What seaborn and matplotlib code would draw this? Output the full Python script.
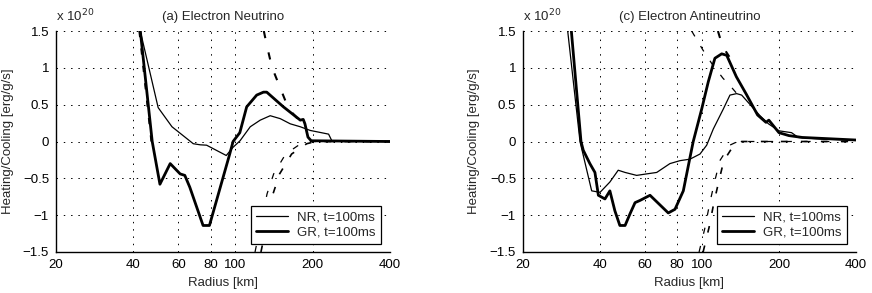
import numpy as np
import pandas as pd
import matplotlib
matplotlib.use("Agg")
import matplotlib.pyplot as plt
from matplotlib.ticker import FixedLocator, FixedFormatter, NullLocator
from matplotlib.lines import Line2D
import seaborn as sns

# ---------------- data (units of 1e20 erg/g/s) ----------------
x_ticks = [20, 40, 60, 80, 100, 200, 400]
y_ticks = [-1.5, -1, -0.5, 0, 0.5, 1, 1.5]
y_tick_labels = ["\u22121.5", "\u22121", "\u22120.5", "0", "0.5", "1", "1.5"]
titles = ["(a) Electron Neutrino", "(c) Electron Antineutrino"]
legend_labels = ["NR, t=100ms", "GR, t=100ms"]

# Panel (a) electron neutrino
a_nr_r = [42.6, 50.0, 56.6, 59.0, 68.5, 72.9, 77.2, 92.1, 97.8, 104.2, 114.2, 124.9,
          136.6, 149.5, 163.5, 178.9, 195.6, 230.6, 237.4, 400]
a_nr_v = [1.5, 0.46, 0.20, 0.15, -0.03, -0.045, -0.05, -0.19, -0.08, 0.01, 0.20, 0.29,
          0.35, 0.31, 0.24, 0.20, 0.15, 0.10, 0.01, 0.0]
a_gr_r = [42.6, 47.4, 50.8, 55.7, 60.9, 63.5, 66.4, 74.8, 79.2, 95.0, 97.9, 104.0,
          110.6, 121.0, 128.6, 132.4, 153.8, 178.9, 183.7, 186.5, 191.6, 197.2, 400]
a_gr_v = [1.5, 0.0, -0.58, -0.30, -0.44, -0.46, -0.62, -1.14, -1.14, -0.17, 0.0, 0.12,
          0.47, 0.63, 0.67, 0.67, 0.47, 0.29, 0.30, 0.24, 0.06, 0.01, 0.0]
a_heat_r = [129.0, 132.4, 138.7, 149.7, 161.3, 176.8]
a_heat_v = [1.5, 1.31, 1.01, 0.72, 0.44, 0.29]
a_heat2_r = [42.1, 46.9]
a_heat2_v = [1.5, 0.0]
a_cool1_r = [119.2, 132.8, 140.9, 156.9, 179.6, 195.0, 400]
a_cool1_v = [-1.5, -0.71, -0.44, -0.17, -0.03, 0.0, 0.0]
a_cool2_r = [125.7, 140.1, 148.6, 165.5, 189.5, 205.7, 400]
a_cool2_v = [-1.5, -0.71, -0.44, -0.17, -0.03, 0.0, 0.0]

# Panel (c) electron antineutrino
c_nr_r = [29.9, 33.4, 35.5, 37.1, 40.0, 43.7, 47.1, 50.1, 55.6, 60.8, 66.6, 75.0, 82.1,
          89.8, 98.3, 104.4, 110.8, 121.2, 128.7, 136.7, 143.0, 168.6, 182.0, 200.0,
          224.0, 238.0, 300.0, 400]
c_nr_v = [1.5, 0.0, -0.39, -0.67, -0.69, -0.55, -0.39, -0.42, -0.46, -0.44, -0.42, -0.30,
          -0.26, -0.24, -0.17, -0.05, 0.17, 0.44, 0.63, 0.65, 0.63, 0.35, 0.24, 0.145,
          0.12, 0.055, 0.03, 0.02]
c_gr_r = [30.9, 33.7, 34.4, 36.5, 38.2, 39.4, 41.8, 43.7, 45.7, 47.8, 50.1, 52.4, 54.8,
          57.3, 62.7, 73.9, 78.5, 84.6, 89.8, 92.5, 99.8, 105.9, 112.4, 119.5, 125.0,
          136.3, 149.2, 165.0, 178.0, 182.6, 200.0, 218.8, 246.6, 400]
c_gr_v = [1.5, 0.0, -0.12, -0.30, -0.42, -0.73, -0.78, -0.67, -0.94, -1.14, -1.14, -0.98,
          -0.83, -0.80, -0.73, -0.97, -0.92, -0.67, -0.22, 0.0, 0.44, 0.81, 1.13, 1.19,
          1.17, 0.88, 0.64, 0.36, 0.26, 0.29, 0.12, 0.08, 0.055, 0.02]
c_heat_r = [115.5, 119.5, 124.2, 128.0]
c_heat_v = [1.5, 1.33, 1.22, 1.15]
c_heat2_r = [91.2, 101.0, 109.2, 120.8, 128.7, 137.0]
c_heat2_v = [1.5, 1.24, 1.06, 0.86, 0.76, 0.65]
c_cool1_r = [97.5, 102.8, 107.4, 112.4, 117.5, 128.5, 138.0, 400]
c_cool1_v = [-1.5, -1.17, -0.83, -0.53, -0.26, -0.05, 0.0, 0.0]
c_cool2_r = [101.1, 106.6, 111.4, 116.6, 121.8, 133.2, 143.1, 400]
c_cool2_v = [-1.5, -1.17, -0.83, -0.53, -0.26, -0.05, 0.0, 0.0]

# ---------------- styling ----------------
sns.set_style("white")
plt.rcParams["font.family"] = ["Liberation Sans", "DejaVu Sans"]
FS = 9.5
plt.rcParams["font.size"] = FS

styles = {
    "nr": dict(lw=0.9, ls="-"),
    "gr": dict(lw=2.0, ls="-"),
    "heat": dict(lw=1.5, ls=(0, (3.5, 7))),
    "heat2": dict(lw=0.9, ls=(0, (5, 9))),
    "cool1": dict(lw=0.9, ls=(0, (5, 10))),
    "cool2": dict(lw=1.2, ls=(0, (4, 8))),
}

panels = [
    {"nr": (a_nr_r, a_nr_v), "gr": (a_gr_r, a_gr_v), "heat": (a_heat_r, a_heat_v),
     "heat2": (a_heat2_r, a_heat2_v), "cool1": (a_cool1_r, a_cool1_v),
     "cool2": (a_cool2_r, a_cool2_v)},
    {"nr": (c_nr_r, c_nr_v), "gr": (c_gr_r, c_gr_v), "heat": (c_heat_r, c_heat_v),
     "heat2": (c_heat2_r, c_heat2_v), "cool1": (c_cool1_r, c_cool1_v),
     "cool2": (c_cool2_r, c_cool2_v)},
]

fig = plt.figure(figsize=(8.72, 2.93), dpi=100)
axes = [fig.add_axes([56 / 872, 1 - 252 / 293, 334 / 872, 221 / 293]),
        fig.add_axes([523 / 872, 1 - 252 / 293, 333 / 872, 221 / 293])]
ylab_x = [-0.125, -0.128]

for i, (ax, pdata) in enumerate(zip(axes, panels)):
    ax.set_xscale("log")
    for key in ["cool1", "cool2", "heat", "heat2", "nr", "gr"]:
        r, v = pdata[key]
        df = pd.DataFrame({"r": r, "v": v})
        sns.lineplot(data=df, x="r", y="v", ax=ax, sort=False, estimator=None,
                     color="black", linewidth=styles[key]["lw"],
                     linestyle=styles[key]["ls"], legend=False)
    ax.set_xlim(20, 400)
    ax.set_ylim(-1.5, 1.5)
    ax.xaxis.set_major_locator(FixedLocator(x_ticks))
    ax.xaxis.set_major_formatter(FixedFormatter([str(t) for t in x_ticks]))
    ax.xaxis.set_minor_locator(NullLocator())
    ax.yaxis.set_major_locator(FixedLocator(y_ticks))
    ax.yaxis.set_major_formatter(FixedFormatter(y_tick_labels))
    ax.tick_params(direction="in", length=3, width=0.8, colors="black",
                   labelsize=FS, pad=5)
    ax.grid(True, color="black", linestyle=(0, (1.5, 6)), linewidth=0.7)
    for s in ["top", "right"]:
        ax.spines[s].set_visible(False)
    for s in ["left", "bottom"]:
        ax.spines[s].set_color("black")
        ax.spines[s].set_linewidth(1.0)
    ax.set_xlabel("Radius [km]", fontsize=FS)
    ax.set_ylabel("Heating/Cooling [erg/g/s]", fontsize=FS)
    ax.xaxis.set_label_coords(0.5, -0.115)
    ax.yaxis.set_label_coords(ylab_x[i], 0.5)
    ax.set_title(titles[i], fontsize=FS, pad=8)
    ax.text(0.0, 1.045, r"x 10$^{20}$", transform=ax.transAxes, ha="left",
            va="baseline", fontsize=FS)
    handles = [Line2D([], [], color="black", lw=0.9),
               Line2D([], [], color="black", lw=2.0)]
    leg = ax.legend(handles, legend_labels, loc="lower right",
                    bbox_to_anchor=(0.972, 0.036), borderaxespad=0,
                    frameon=True, fancybox=False, framealpha=1,
                    edgecolor="black", fontsize=FS, handlelength=2.4,
                    handletextpad=0.7, labelspacing=0.25, borderpad=0.4)
    leg.get_frame().set_linewidth(0.9)

fig.savefig("out.png", dpi=100)
